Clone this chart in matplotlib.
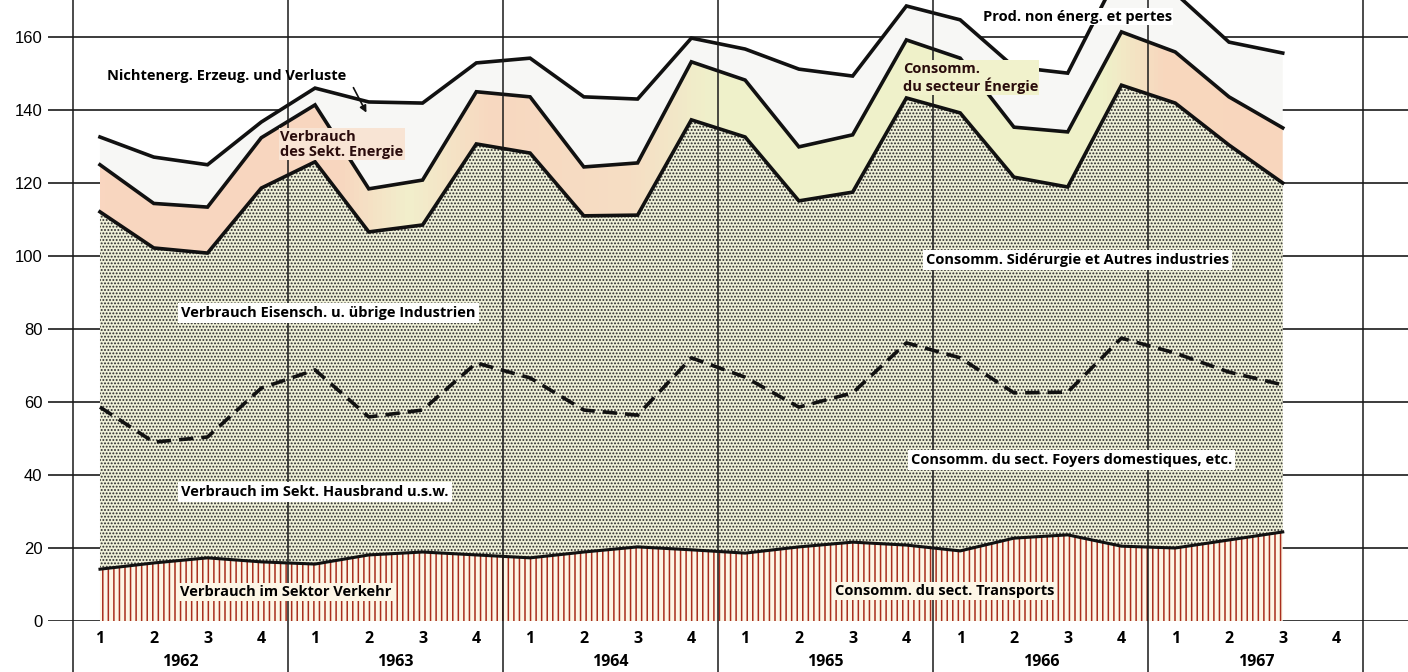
import numpy as np
import matplotlib.pyplot as plt
from matplotlib.colors import LinearSegmentedColormap

# quarterly values, 1962 Q1 .. 1967 Q3 (stacked components)
quarter_labels = ['1', '2', '3', '4'] * 6
years = ['1962', '1963', '1964', '1965', '1966', '1967']
transport = [14.2, 15.9, 17.3, 16.2, 15.6, 18.1, 18.9, 18.1, 17.3, 18.9, 20.3, 19.5,
             18.6, 20.3, 21.6, 20.8, 19.2, 22.7, 23.6, 20.5, 20.0, 22.2, 24.4]
domestic = [44.4, 33.1, 33.1, 47.6, 53.2, 37.8, 38.9, 52.6, 49.3, 38.9, 36.1, 52.6,
            48.2, 38.3, 40.9, 55.4, 52.9, 39.8, 39.1, 57.0, 53.4, 46.0, 40.3]
industry = [53.5, 53.2, 50.4, 54.8, 57.0, 50.7, 50.7, 60.0, 61.6, 53.2, 54.8, 65.2,
            65.8, 56.5, 55.0, 67.1, 67.1, 59.1, 56.2, 69.3, 68.5, 62.2, 55.3]
energy = [12.9, 12.2, 12.6, 13.8, 15.6, 11.8, 12.3, 14.3, 15.4, 13.4, 14.3, 15.9,
          15.6, 14.8, 15.7, 15.9, 15.0, 13.7, 15.1, 14.6, 14.0, 13.2, 15.1]
non_energy = [7.6, 12.7, 11.6, 4.3, 4.6, 23.8, 21.1, 7.9, 10.6, 19.2, 17.5, 6.5,
              8.5, 21.3, 16.1, 9.3, 10.5, 16.5, 16.1, 17.6, 16.1, 15.0, 20.5]

x = np.arange(len(transport))
lvl_t = np.array(transport)
lvl_d = lvl_t + np.array(domestic)
lvl_i = lvl_d + np.array(industry)
lvl_e = lvl_i + np.array(energy)
lvl_top = lvl_e + np.array(non_energy)

plt.rcParams['font.family'] = ['Open Sans', 'DejaVu Sans']

fig = plt.figure(figsize=(14.08, 6.72), dpi=100)
ax = fig.add_axes([48 / 1408, 51 / 672, 1 - 48 / 1408, 621 / 672])
xmin, xmax = -0.967, 24.33
ymax = 621 / 3.65

# grid lines sit behind the layers
ax.hlines(np.arange(0, 161, 20), xmin, xmax, color='#1a1a1a', lw=1.2, zorder=0)

# transport: red vertical hatching
plt.rcParams['hatch.linewidth'] = 1.1
ax.fill_between(x, 0, lvl_t, facecolor='#fdf6e6', edgecolor='#a82e1d',
                hatch='|||', linewidth=0, zorder=1)
# domestic + industry: dotted screen
plt.rcParams['hatch.linewidth'] = 0.9
ax.fill_between(x, lvl_t, lvl_i, facecolor='#eff0d8', edgecolor='#2a2a2a',
                hatch='.....', linewidth=0, zorder=1)
# energy sector band, pink to pale yellow
band = ax.fill_between(x, lvl_i, lvl_e, facecolor='none', edgecolor='none', zorder=1)
band_cmap = LinearSegmentedColormap.from_list('band', [
    (0.0, '#f9d6c0'), (0.2, '#f8d6bf'), (0.26, '#f2efcc'), (0.33, '#f8d8c0'),
    (0.45, '#f6dec4'), (0.52, '#eff1cb'), (0.85, '#eff1c9'), (0.9, '#f8d8be'),
    (1.0, '#f8d6bd')])
grad = ax.imshow(np.linspace(0, 1, 256)[None, :], extent=[0, 22, 0, ymax],
                 aspect='auto', cmap=band_cmap, zorder=1)
grad.set_clip_path(band.get_paths()[0], transform=ax.transData)
# non-energy production and losses
ax.fill_between(x, lvl_e, lvl_top, facecolor='#f7f7f5', linewidth=0, zorder=1)

for lvl in (lvl_top, lvl_e, lvl_i):
    ax.plot(x, lvl, color='#111111', lw=2.6, solid_joinstyle='miter', zorder=3)
ax.plot(x, lvl_d, color='#111111', lw=2.6, dashes=(4, 2.2), zorder=3)
ax.plot(x, lvl_t, color='#111111', lw=2.2, zorder=3)

# year dividers, running below the plot
ax.vlines(np.arange(-0.5, 24, 4), -0.085, 1, transform=ax.get_xaxis_transform(),
          color='#1a1a1a', lw=1.1, clip_on=False, zorder=4)

ax.set_xlim(xmin, xmax)
ax.set_ylim(0, ymax)
for s in ax.spines.values():
    s.set_visible(False)
ax.set_yticks(np.arange(0, 161, 20))
ax.set_yticklabels([str(v) for v in range(0, 161, 20)], family='Liberation Sans', fontsize=12)
ax.tick_params(axis='y', length=0, pad=4)
ax.set_xticks(np.arange(24))
ax.set_xticklabels(quarter_labels, fontsize=11.5, fontweight='bold')
ax.set_xticks(np.arange(1.5, 24, 4), minor=True)
ax.set_xticklabels(years, minor=True, fontsize=11.5, fontweight='bold')
ax.tick_params(axis='x', which='major', length=0, pad=7)
ax.tick_params(axis='x', which='minor', length=0, pad=24)

white = dict(boxstyle='square,pad=0.2', facecolor='white', edgecolor='none')
cream = dict(boxstyle='square,pad=0.15', facecolor='#fdf6e6', edgecolor='none')
lbl = dict(fontsize=10.5, fontweight='bold', va='center', ha='left', zorder=5)

ax.text(0.13, 149.3, 'Nichtenerg. Erzeug. und Verluste', **lbl)
ax.annotate('', xy=(4.98, 138.6), xytext=(4.69, 146.8),
            arrowprops=dict(arrowstyle='-|>', lw=1.2, color='#111111'), zorder=5)
ax.text(3.35, 130.6, 'Verbrauch\ndes Sekt. Energie', color='#2a0c0c', linespacing=1.1,
        bbox=dict(boxstyle='square,pad=0.1', facecolor='#f8e4d4', edgecolor='none'), **lbl)
ax.text(1.51, 84.4, 'Verbrauch Eisensch. u. übrige Industrien', bbox=white, **lbl)
ax.text(1.51, 35.3, 'Verbrauch im Sekt. Hausbrand u.s.w.', bbox=white, **lbl)
ax.text(1.49, 7.9, 'Verbrauch im Sektor Verkehr', bbox=cream, **lbl)
ax.text(14.93, 148.8, 'Consomm.\ndu secteur Énergie', color='#2a0c0c', linespacing=1.1,
        bbox=dict(boxstyle='square,pad=0.1', facecolor='#f1f2cc', edgecolor='none'), **lbl)
ax.text(16.42, 165.5, 'Prod. non énerg. et pertes',
        bbox=dict(boxstyle='square,pad=0.1', facecolor='white', edgecolor='none'), **lbl)
ax.text(15.36, 98.9, 'Consomm. Sidérurgie et Autres industries', bbox=white, **lbl)
ax.text(15.08, 44.1, 'Consomm. du sect. Foyers domestiques, etc.', bbox=white, **lbl)
ax.text(13.67, 8.2, 'Consomm. du sect. Transports', bbox=cream, **lbl)

fig.savefig('out.png', dpi=100)
